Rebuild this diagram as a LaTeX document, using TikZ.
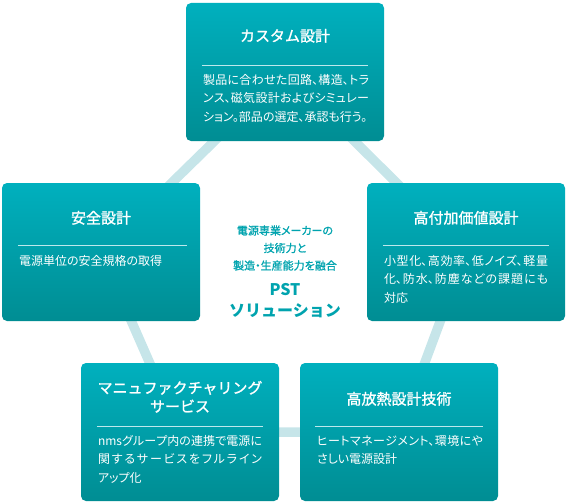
\documentclass[tikz,border=0pt]{standalone}
\usepackage{fontspec}
\setmainfont{Noto Sans CJK JP}
\newfontfamily\jp{Noto Sans CJK JP}
\newfontfamily\jpp[RawFeature=+palt]{Noto Sans CJK JP}
\newfontfamily\jpt[FakeBold=1.2]{Noto Sans CJK JP}
\newfontfamily\jpm[FakeBold=1.2,RawFeature=+palt]{Noto Sans CJK JP}
\XeTeXlinebreaklocale "ja"
\XeTeXlinebreakskip=0pt plus 3pt minus 0.3pt
\definecolor{boxtop}{HTML}{00B0BE}
\definecolor{boxbot}{HTML}{008D93}
\definecolor{linkc}{HTML}{C6E5E9}
\definecolor{midtext}{HTML}{00A3AE}
\definecolor{sepc}{HTML}{BDE8EC}
\tikzset{
  card/.style={rounded corners=5pt, top color=boxtop, bottom color=boxbot, draw=none,
    minimum width=198pt, minimum height=138pt, inner sep=0pt},
  link/.style={draw=linkc, line width=9.5pt},
  ttl/.style={text=white, font=\jpt\fontsize{15}{18.5}\selectfont, align=center, inner sep=0pt},
  bodyt/.style={text=white, font=\jpp\fontsize{12}{18.5}\selectfont, inner sep=0pt, anchor=north west},
  sep/.style={draw=sepc, line width=1pt},
  mid/.style={text=midtext, align=center, inner sep=0pt}
}
\begin{document}
\begin{tikzpicture}[x=1pt,y=-1pt]
\useasboundingbox (0,0) rectangle (569,503);
% centers
\coordinate (c1) at (285,72);
\coordinate (c2) at (101,252);
\coordinate (c3) at (466,252);
\coordinate (c4) at (180,432);
\coordinate (c5) at (399,432);
\draw[link] (c1) -- (c3) -- (c5) -- (c4) -- (c2) -- cycle;
% cards
\node[card] (b1) at (c1) {};
\node[card] (b2) at (c2) {};
\node[card] (b3) at (c3) {};
\node[card] (b4) at (c4) {};
\node[card] (b5) at (c5) {};
% box 1
\node[ttl] (t1) at ([yshift=-33pt]b1.north) {カスタム設計};
\draw[sep] ([xshift=16pt,yshift=-63pt]b1.north west) -- ([xshift=-16pt,yshift=-63pt]b1.north east);
\node[bodyt] (d1) at ([xshift=17pt,yshift=-71pt]b1.north west) {%
\begin{minipage}[t]{166pt}\parindent=0pt 製品に合わせた回路、構造、トラ\linebreak ンス、磁気設計およびシミュレー\linebreak ション。部品の選定、承認も行う。\end{minipage}};
% box 2
\node[ttl] (t2) at ([yshift=-35pt]b2.north) {安全設計};
\draw[sep] ([xshift=16pt,yshift=-63pt]b2.north west) -- ([xshift=-13pt,yshift=-63pt]b2.north east);
\node[bodyt] (d2) at ([xshift=17pt,yshift=-72pt]b2.north west) {%
\begin{minipage}[t]{166pt}\parindent=0pt 電源単位の安全規格の取得\end{minipage}};
% box 3
\node[ttl] (t3) at ([yshift=-35pt]b3.north) {高付加価値設計};
\draw[sep] ([xshift=16pt,yshift=-63pt]b3.north west) -- ([xshift=-16pt,yshift=-63pt]b3.north east);
\node[bodyt] (d3) at ([xshift=17pt,yshift=-72pt]b3.north west) {%
\begin{minipage}[t]{164pt}\parindent=0pt 小型化、高効率、低ノイズ、軽量\linebreak 化、防水、防塵などの課題にも\linebreak 対応\end{minipage}};
% box 4
\node[ttl] (t4) at ([yshift=-34pt]b4.north) {マニュファクチャリング\\サービス};
\draw[sep] ([xshift=16pt,yshift=-64pt]b4.north west) -- ([xshift=-16pt,yshift=-64pt]b4.north east);
\node[bodyt] (d4) at ([xshift=17pt,yshift=-72pt]b4.north west) {%
\begin{minipage}[t]{164pt}\parindent=0pt nmsグループ内の連携で電源に\linebreak 関するサービスをフルライン\linebreak アップ化\end{minipage}};
% box 5
\node[ttl] (t5) at ([yshift=-36pt]b5.north) {高放熱設計技術};
\draw[sep] ([xshift=15pt,yshift=-64pt]b5.north west) -- ([xshift=-15pt,yshift=-64pt]b5.north east);
\node[bodyt] (d5) at ([xshift=17pt,yshift=-72pt]b5.north west) {%
\begin{minipage}[t]{166pt}\parindent=0pt ヒートマネージメント、環境にや\linebreak さしい電源設計\end{minipage}};
% center
\node[mid, font=\jpm\fontsize{11}{17.5}\selectfont] (m1) at (285,248) {電源専業メーカーの\\技術力と\\製造・生産能力を融合};
\node[mid, font=\jp\bfseries\fontsize{16}{21}\selectfont] (m2) at (285,301) {PST\\ソリューション};
\end{tikzpicture}
\end{document}
